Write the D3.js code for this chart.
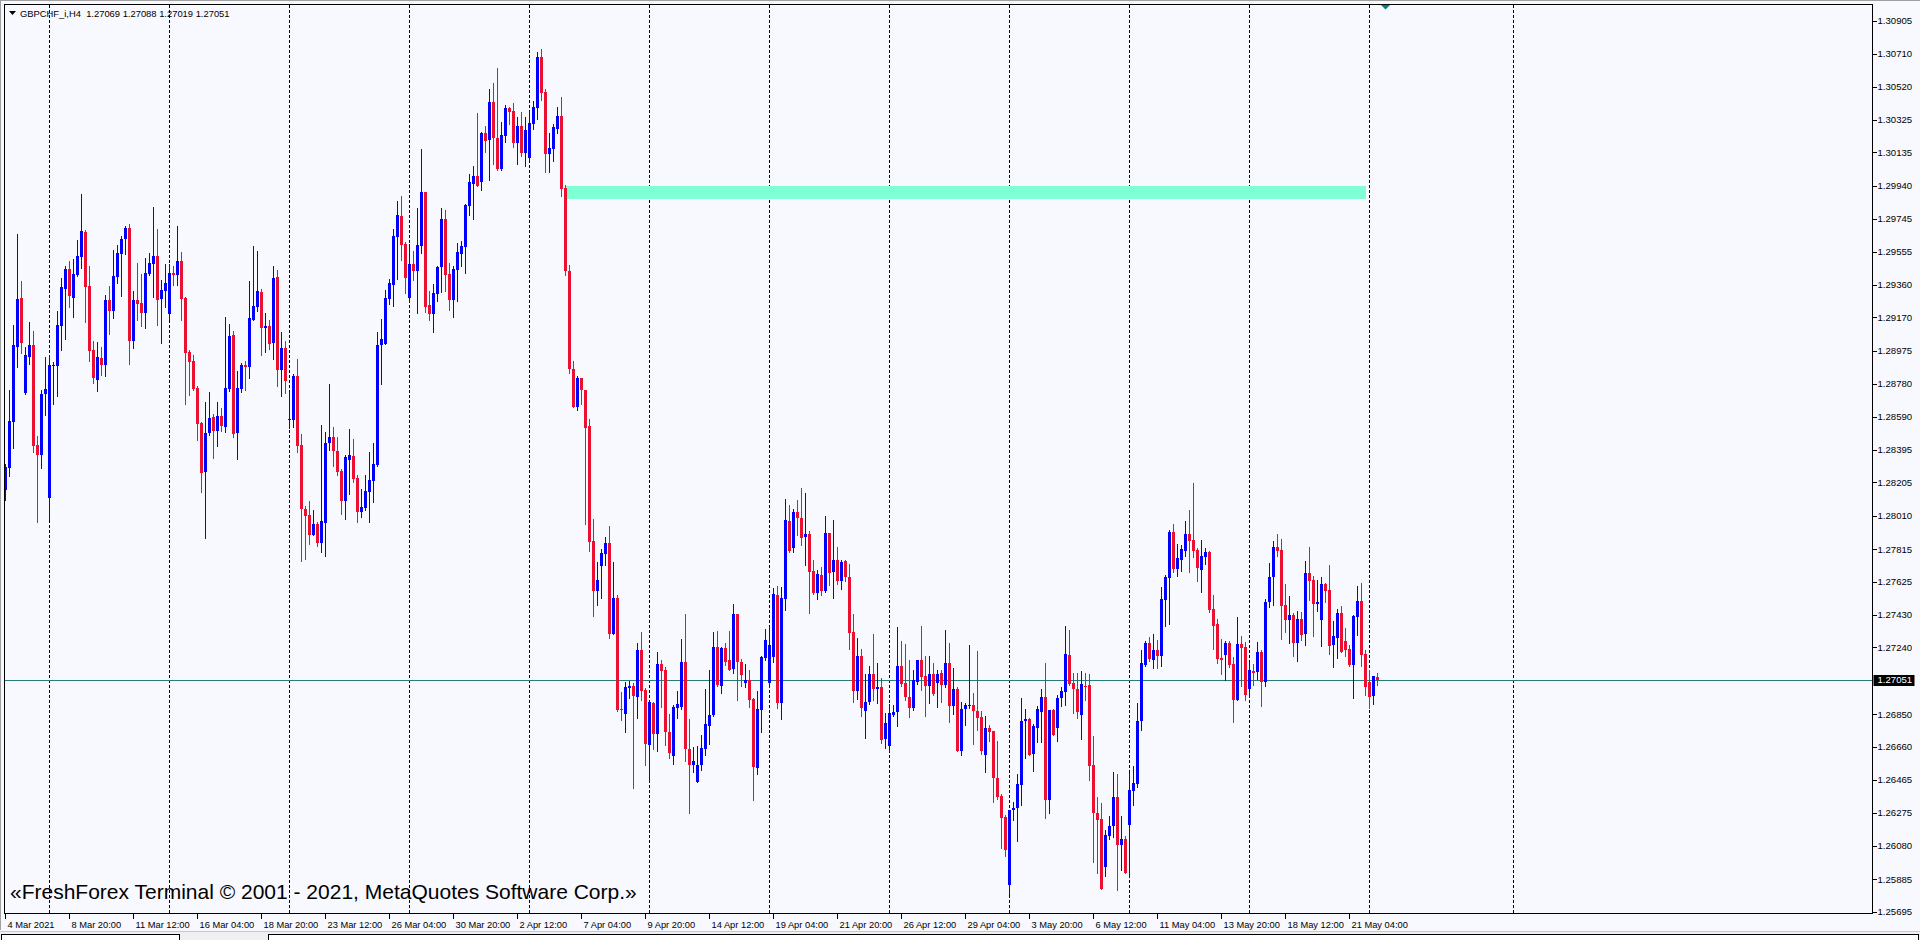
<!DOCTYPE html>
<html><head><meta charset="utf-8">
<script src="https://cdn.jsdelivr.net/npm/d3@7"></script>
<style>
html,body{margin:0;padding:0;background:#F8F8FF;overflow:hidden}
svg{display:block}
text{font-family:"Liberation Sans",Arial,sans-serif}
</style></head><body>
<svg id="chart" width="1920" height="940"></svg>
<script>
const chartTitle = "GBPCHF_i,H4  1.27069 1.27088 1.27019 1.27051";
const watermark = "«FreshForex Terminal © 2001 - 2021, MetaQuotes Software Corp.»";
const firstBarTime = "2021-03-04 04:00";

const openP = [
1.28158,1.28291,1.28558,1.28997,1.29283,1.28728,1.28938,1.29006,1.28422,1.28363,
1.28724,1.28114,1.28885,1.28885,1.29119,1.29334,1.29456,1.29283,1.29416,1.29523,
1.29667,1.29351,1.28977,1.28804,1.28932,1.28889,1.29269,1.29207,1.29406,1.29538,
1.29626,1.29692,1.29035,1.29269,1.29252,1.29195,1.29421,1.29480,1.29527,1.29275,
1.29322,1.29189,1.29427,1.29416,1.29497,1.29283,1.28965,1.28913,1.28755,1.28550,
1.28266,1.28494,1.28585,1.28505,1.28591,1.28529,1.28753,1.29065,1.28494,1.28751,
1.28890,1.28880,1.29157,1.29231,1.29318,1.29110,1.29120,1.29020,1.29406,1.28864,
1.28991,1.28570,1.28572,1.28825,1.28422,1.28052,1.28013,1.27900,1.27960,1.27853,
1.27970,1.28436,1.28471,1.28389,1.28272,1.28095,1.28334,1.28360,1.28231,1.28032,
1.28057,1.28149,1.28213,1.28305,1.29007,1.29014,1.29278,1.29357,1.29640,1.29761,
1.29597,1.29283,1.29480,1.29441,1.29587,1.29901,1.29241,1.29192,1.29305,1.29463,
1.29747,1.29422,1.29274,1.29449,1.29538,1.29583,1.29824,1.29951,1.29996,1.29960,
1.30246,1.30208,1.30429,1.30217,1.30040,1.30229,1.30394,1.30376,1.30187,1.30288,
1.30134,1.30105,1.30302,1.30397,1.30692,1.30488,1.30128,1.30152,1.30270,1.30347,
1.29928,1.29444,1.28869,1.28644,1.28813,1.28748,1.28535,1.27863,1.27571,1.27718,
1.27789,1.27851,1.27320,1.27532,1.26883,1.26850,1.27001,1.27016,1.26951,1.27228,
1.26992,1.26668,1.26916,1.26733,1.27143,1.27110,1.26745,1.26603,1.26889,1.26892,
1.27155,1.26647,1.26552,1.26453,1.26550,1.26648,1.26778,1.26846,1.27242,1.27012,
1.27236,1.27164,1.27117,1.27433,1.27158,1.27032,1.27051,1.26936,1.26535,1.26874,
1.27178,1.27035,1.27187,1.27544,1.26915,1.27521,1.27977,1.27821,1.28035,1.28000,
1.27885,1.27901,1.27690,1.27558,1.27665,1.27569,1.27907,1.27681,1.27749,1.27628,
1.27745,1.27655,1.27328,1.26985,1.27193,1.26866,1.26920,1.27082,1.26996,1.27006,
1.26702,1.26663,1.26848,1.26862,1.27129,1.27030,1.26952,1.26889,1.27041,1.27164,
1.27071,1.27014,1.27086,1.27032,1.27092,1.27018,1.27152,1.26897,1.26995,1.26634,
1.26883,1.26895,1.26905,1.26868,1.26831,1.26611,1.26772,1.26749,1.26476,1.26369,
1.26246,1.25850,1.26289,1.26301,1.26435,1.26809,1.26819,1.26616,1.26768,1.26862,
1.26948,1.26347,1.26872,1.26768,1.26942,1.26979,1.27195,1.27030,1.26998,1.26845,
1.27016,1.27018,1.26550,1.26271,1.26238,1.25956,1.26137,1.26194,1.26363,1.26084,
1.26123,1.26201,1.26398,1.26441,1.26809,1.27135,1.27268,1.27167,1.27223,1.27188,
1.27515,1.27646,1.27913,1.27697,1.27751,1.27804,1.27901,1.27866,1.27808,1.27693,
1.27769,1.27796,1.27463,1.27375,1.27176,1.27196,1.27264,1.27141,1.26933,1.27258,
1.27241,1.26997,1.27100,1.27096,1.27211,1.27038,1.27504,1.27650,1.27825,1.27808,
1.27486,1.27400,1.27430,1.27266,1.27404,1.27319,1.27673,1.27632,1.27494,1.27400,
1.27609,1.27574,1.27254,1.27295,1.27439,1.27276,1.27229,1.27137,1.27418,1.27510,
1.27200,1.27038,1.26956,1.27069];

const highP = [
1.28314,1.28743,1.29123,1.29659,1.29381,1.28997,1.29141,1.29088,1.28474,1.28743,
1.28938,1.28948,1.28909,1.29205,1.29400,1.29468,1.29497,1.29509,1.29624,1.29889,
1.29679,1.29468,1.29030,1.29024,1.28997,1.29299,1.29351,1.29562,1.29591,1.29644,
1.29704,1.29714,1.29322,1.29486,1.29421,1.29515,1.29544,1.29813,1.29685,1.29386,
1.29480,1.29480,1.29468,1.29702,1.29550,1.29289,1.28977,1.28948,1.28767,1.28558,
1.28675,1.28733,1.28607,1.28675,1.28638,1.29172,1.29133,1.29089,1.28855,1.28903,
1.28913,1.29383,1.29587,1.29558,1.29334,1.29196,1.29153,1.29469,1.29445,1.29083,
1.29030,1.28734,1.28837,1.28925,1.28486,1.28065,1.28095,1.28042,1.27974,1.28539,
1.28498,1.28779,1.28529,1.28471,1.28282,1.28364,1.28517,1.28459,1.28247,1.28165,
1.28247,1.28383,1.28436,1.29083,1.29159,1.29328,1.29393,1.29685,1.29849,1.29880,
1.29611,1.29597,1.29558,1.29810,1.30153,1.29901,1.29322,1.29363,1.29469,1.29810,
1.29800,1.29490,1.29469,1.29605,1.29618,1.29833,1.30010,1.30055,1.30364,1.30255,
1.30291,1.30503,1.30541,1.30627,1.30311,1.30414,1.30403,1.30423,1.30344,1.30370,
1.30344,1.30379,1.30438,1.30721,1.30739,1.30503,1.30246,1.30299,1.30403,1.30459,
1.29942,1.29479,1.28913,1.28830,1.28813,1.28748,1.28574,1.27990,1.27739,1.27818,
1.27886,1.27951,1.27739,1.27547,1.26981,1.27040,1.27046,1.27031,1.27267,1.27332,
1.27001,1.26927,1.26919,1.27214,1.27169,1.27125,1.26850,1.26904,1.26987,1.27287,
1.27438,1.26824,1.26657,1.26661,1.26726,1.27000,1.27111,1.27328,1.27334,1.27242,
1.27269,1.27334,1.27497,1.27433,1.27174,1.27141,1.27111,1.26944,1.26985,1.27191,
1.27347,1.27357,1.27589,1.27599,1.27591,1.28111,1.28076,1.28051,1.28100,1.28170,
1.28141,1.27920,1.27753,1.27694,1.27710,1.28006,1.27911,1.27983,1.27825,1.27753,
1.27753,1.27729,1.27433,1.27297,1.27232,1.27082,1.27133,1.27320,1.27152,1.27063,
1.26854,1.26911,1.26901,1.27359,1.27275,1.27260,1.27164,1.27111,1.27164,1.27363,
1.27188,1.27188,1.27152,1.27110,1.27110,1.27345,1.27264,1.27119,1.27008,1.26924,
1.26915,1.27252,1.26973,1.27217,1.26868,1.26837,1.26784,1.26753,1.26692,1.26381,
1.26258,1.26291,1.26338,1.26498,1.26942,1.26880,1.26827,1.26792,1.26895,1.26995,
1.27149,1.26874,1.26880,1.26961,1.27008,1.27365,1.27341,1.27092,1.27092,1.27100,
1.27092,1.27086,1.26720,1.26365,1.26330,1.26170,1.26252,1.26511,1.26498,1.26254,
1.26135,1.26507,1.26546,1.26915,1.27228,1.27277,1.27300,1.27321,1.27282,1.27591,
1.27662,1.27925,1.27960,1.27843,1.27837,1.27977,1.28042,1.28200,1.27819,1.27866,
1.27819,1.27804,1.27545,1.27404,1.27287,1.27276,1.27276,1.27182,1.27416,1.27305,
1.27270,1.27153,1.27143,1.27270,1.27223,1.27521,1.27732,1.27862,1.27901,1.27872,
1.27609,1.27539,1.27439,1.27451,1.27445,1.27743,1.27825,1.27656,1.27632,1.27650,
1.27615,1.27720,1.27393,1.27463,1.27482,1.27352,1.27252,1.27430,1.27597,1.27615,
1.27223,1.27106,1.27071,1.27088];

const lowP = [
1.28100,1.28242,1.28406,1.28880,1.28961,1.28724,1.28899,1.28383,1.27973,1.28289,
1.28597,1.27989,1.28665,1.28710,1.28977,1.29043,1.29230,1.29172,1.29410,1.29460,
1.29143,1.28918,1.28786,1.28739,1.28831,1.28827,1.29071,1.29166,1.29371,1.29295,
1.29538,1.28897,1.28991,1.29152,1.29119,1.29108,1.29416,1.29289,1.29123,1.29020,
1.29230,1.29160,1.29357,1.29357,1.29152,1.28663,1.28714,1.28743,1.28453,1.28149,
1.27882,1.28482,1.28348,1.28418,1.28505,1.28500,1.28740,1.28471,1.28340,1.28734,
1.28743,1.28816,1.29153,1.29207,1.28948,1.28968,1.28987,1.28929,1.28767,1.28710,
1.28728,1.28523,1.28529,1.28383,1.27745,1.27760,1.27847,1.27896,1.27833,1.27798,
1.27775,1.28397,1.28301,1.28250,1.28022,1.27993,1.28139,1.28208,1.27974,1.28003,
1.28042,1.27974,1.28091,1.28301,1.28783,1.29012,1.29246,1.29237,1.29393,1.29508,
1.29313,1.29260,1.29391,1.29196,1.29547,1.29202,1.29157,1.29085,1.29266,1.29318,
1.29324,1.29215,1.29172,1.29266,1.29473,1.29429,1.29768,1.29745,1.29937,1.29913,
1.30137,1.29972,1.30069,1.30031,1.30031,1.30196,1.30299,1.30167,1.30069,1.30111,
1.30055,1.30090,1.30270,1.30329,1.30444,1.30019,1.30019,1.30084,1.30246,1.29878,
1.29420,1.28845,1.28644,1.28630,1.28662,1.27960,1.27804,1.27423,1.27488,1.27532,
1.27724,1.27296,1.27320,1.26869,1.26818,1.26745,1.26945,1.26420,1.26830,1.26933,
1.26550,1.26455,1.26647,1.26633,1.26892,1.26668,1.26594,1.26559,1.26830,1.26883,
1.26574,1.26273,1.26509,1.26453,1.26521,1.26614,1.26673,1.26842,1.27012,1.26973,
1.27139,1.27110,1.27090,1.26930,1.27016,1.27008,1.26891,1.26346,1.26499,1.26745,
1.27164,1.27008,1.27154,1.26885,1.26821,1.27462,1.27797,1.27796,1.27895,1.27840,
1.27720,1.27441,1.27554,1.27523,1.27544,1.27564,1.27603,1.27529,1.27610,1.27581,
1.27626,1.27230,1.26922,1.26938,1.26837,1.26710,1.26911,1.26934,1.26915,1.26681,
1.26655,1.26632,1.26842,1.26780,1.27012,1.26930,1.26833,1.26872,1.27028,1.26993,
1.26837,1.26915,1.26965,1.26891,1.26924,1.27008,1.26804,1.26850,1.26634,1.26611,
1.26788,1.26887,1.26675,1.26755,1.26616,1.26511,1.26692,1.26336,1.26353,1.26065,
1.26018,1.25796,1.26234,1.26108,1.26316,1.26593,1.26609,1.26517,1.26685,1.26685,
1.26242,1.26271,1.26726,1.26691,1.26895,1.26903,1.27020,1.26856,1.26827,1.26704,
1.26930,1.26464,1.25985,1.25921,1.25827,1.25901,1.26123,1.26129,1.25821,1.25938,
1.25921,1.25897,1.26316,1.26424,1.26755,1.27129,1.27160,1.27120,1.27120,1.27131,
1.27365,1.27377,1.27681,1.27656,1.27687,1.27773,1.27681,1.27769,1.27628,1.27564,
1.27728,1.27447,1.27231,1.27149,1.27085,1.27050,1.27126,1.26804,1.26933,1.27015,
1.26933,1.26950,1.27022,1.27055,1.26898,1.27015,1.27476,1.27488,1.27775,1.27289,
1.27330,1.27266,1.27190,1.27161,1.27283,1.27254,1.27517,1.27307,1.27453,1.27248,
1.27506,1.27202,1.27126,1.27178,1.27213,1.27190,1.27131,1.26944,1.27313,1.27131,
1.26962,1.26886,1.26909,1.27019];

const closeP = [
1.28295,1.28564,1.29006,1.29275,1.29020,1.28948,1.29006,1.28418,1.28363,1.28724,
1.28753,1.28889,1.28889,1.29123,1.29345,1.29456,1.29295,1.29421,1.29527,1.29673,
1.29347,1.28973,1.28815,1.28936,1.28889,1.29269,1.29207,1.29410,1.29544,1.29626,
1.29692,1.29035,1.29269,1.29248,1.29195,1.29427,1.29486,1.29527,1.29269,1.29328,
1.29369,1.29427,1.29416,1.29497,1.29277,1.28961,1.28909,1.28749,1.28546,1.28260,
1.28492,1.28581,1.28505,1.28591,1.28535,1.28755,1.29059,1.28486,1.28757,1.28890,
1.28880,1.29166,1.29237,1.29322,1.29110,1.29120,1.29014,1.29400,1.28864,1.28991,
1.28798,1.28576,1.28825,1.28418,1.28052,1.28009,1.27900,1.27960,1.27853,1.27978,
1.28436,1.28471,1.28389,1.28266,1.28095,1.28354,1.28364,1.28225,1.28032,1.28061,
1.28155,1.28217,1.28311,1.29007,1.29042,1.29283,1.29371,1.29646,1.29767,1.29595,
1.29400,1.29480,1.29441,1.29591,1.29901,1.29231,1.29192,1.29313,1.29465,1.29743,
1.29420,1.29274,1.29451,1.29550,1.29588,1.29827,1.29960,1.29996,1.29937,1.30246,
1.30202,1.30429,1.30217,1.30040,1.30234,1.30394,1.30373,1.30187,1.30288,1.30134,
1.30264,1.30305,1.30400,1.30692,1.30485,1.30128,1.30158,1.30282,1.30347,1.29919,
1.29441,1.28866,1.28644,1.28816,1.28745,1.28526,1.27857,1.27571,1.27636,1.27795,
1.27851,1.27320,1.27532,1.26877,1.26877,1.27007,1.27013,1.26957,1.27228,1.26987,
1.26674,1.26919,1.26733,1.27143,1.27102,1.26745,1.26624,1.26892,1.26910,1.27155,
1.26647,1.26553,1.26574,1.26552,1.26652,1.26790,1.26848,1.27242,1.27018,1.27236,
1.27158,1.27111,1.27433,1.27154,1.27078,1.27051,1.26930,1.26540,1.26878,1.27182,
1.27281,1.27254,1.27550,1.26915,1.27532,1.27983,1.27803,1.28035,1.27996,1.27879,
1.27901,1.27681,1.27558,1.27667,1.27569,1.27907,1.27675,1.27749,1.27628,1.27737,
1.27651,1.27322,1.26985,1.27193,1.26885,1.26924,1.27082,1.26996,1.27008,1.26700,
1.26796,1.26854,1.26860,1.27129,1.27026,1.26950,1.26889,1.27049,1.27164,1.27067,
1.27014,1.27086,1.26967,1.27086,1.27020,1.27152,1.26897,1.26995,1.26634,1.26883,
1.26901,1.26905,1.26868,1.26827,1.26634,1.26768,1.26745,1.26476,1.26363,1.26242,
1.26055,1.26287,1.26301,1.26441,1.26813,1.26821,1.26611,1.26778,1.26878,1.26948,
1.26347,1.26872,1.26728,1.26942,1.26983,1.27201,1.27026,1.26995,1.26860,1.27024,
1.27012,1.26546,1.26271,1.26229,1.25827,1.26141,1.26194,1.26363,1.26084,1.26123,
1.25923,1.26404,1.26445,1.26813,1.27147,1.27269,1.27170,1.27223,1.27188,1.27521,
1.27650,1.27913,1.27697,1.27761,1.27814,1.27901,1.27862,1.27804,1.27704,1.27773,
1.27796,1.27457,1.27365,1.27172,1.27167,1.27264,1.27137,1.26933,1.27258,1.27239,
1.26962,1.27106,1.27091,1.27211,1.27038,1.27504,1.27650,1.27825,1.27804,1.27482,
1.27400,1.27430,1.27266,1.27404,1.27313,1.27673,1.27628,1.27494,1.27504,1.27609,
1.27570,1.27248,1.27305,1.27439,1.27213,1.27225,1.27137,1.27422,1.27510,1.27196,
1.27009,1.26950,1.27071,1.27051];

const priceTicks = [1.30905,1.30710,1.30520,1.30325,1.30135,1.29940,1.29745,1.29555,1.29360,
  1.29170,1.28975,1.28780,1.28590,1.28395,1.28205,1.28010,1.27815,1.27625,1.27430,1.27240,
  1.26850,1.26660,1.26465,1.26275,1.26080,1.25885,1.25695];
const lastPrice = 1.27051;
const timeTickLabels = ["4 Mar 2021","8 Mar 20:00","11 Mar 12:00","16 Mar 04:00","18 Mar 20:00",
  "23 Mar 12:00","26 Mar 04:00","30 Mar 20:00","2 Apr 12:00","7 Apr 04:00","9 Apr 20:00",
  "14 Apr 12:00","19 Apr 04:00","21 Apr 20:00","26 Apr 12:00","29 Apr 04:00","3 May 20:00",
  "6 May 12:00","11 May 04:00","13 May 20:00","18 May 12:00","21 May 04:00"];
const barsPerTimeLabel = 16;
const zoneFrom = "2021-04-06 12:00", zoneTo = "2021-05-21 20:00";
const zoneHigh = 1.29941, zoneLow = 1.29861;
const futureSeparatorBar = 377;

// ---- bar times (H4, Mon-Fri) ----
const N = openP.length;
const parse = d3.utcParse("%Y-%m-%d %H:%M");
const fmtKey = d3.utcFormat("%Y-%m-%d %H:%M");
const times = [];
{ let t = parse(firstBarTime).getTime();
  while (times.length < N) {
    const d = new Date(t);
    if (d.getUTCDay() !== 0 && d.getUTCDay() !== 6) times.push(d);
    t += 4*3600*1000;
  } }
const idxOf = s => times.findIndex(d => fmtKey(d) === s);
const bars = d3.range(N).map(i => ({i, t: times[i], o: openP[i], h: highP[i], l: lowP[i], c: closeP[i]}));

// ---- geometry ----
const W = 1920, H = 940;
const plot = {left: 4.5, top: 4.5, right: 1872.5, bottom: 913.5};
const x = d3.scaleLinear().domain([0, 1]).range([5.5, 9.5]);
const y = d3.scaleLinear().domain([1.25695, 1.30905]).range([911.7, 20.7]);

const svg = d3.select("#chart");
svg.append("rect").attr("width", W).attr("height", H).attr("fill", "#F8F8FF");

svg.append("clipPath").attr("id", "clip").append("rect")
  .attr("x", plot.left + 0.5).attr("y", plot.top + 0.5)
  .attr("width", plot.right - plot.left - 1).attr("height", plot.bottom - plot.top - 1);
const g = svg.append("g").attr("clip-path", "url(#clip)").attr("shape-rendering", "crispEdges");

// weekly separators
const sepIdx = bars.filter(b => b.t.getUTCDay() === 1 && b.t.getUTCHours() === 0).map(b => b.i);
sepIdx.push(futureSeparatorBar);
g.selectAll("line.sep").data(sepIdx).join("line").attr("class", "sep")
  .attr("x1", d => x(d)).attr("x2", d => x(d))
  .attr("y1", plot.top).attr("y2", plot.bottom)
  .attr("stroke", "#000").attr("stroke-width", 1).attr("stroke-dasharray", "3,2");

// supply zone rectangle
const zi0 = idxOf(zoneFrom), zi1 = idxOf(zoneTo);
g.append("rect").attr("x", x(zi0)).attr("width", x(zi1) - x(zi0))
  .attr("y", y(zoneHigh)).attr("height", y(zoneLow) - y(zoneHigh))
  .attr("fill", "#7FFFD4");

// bid line
g.append("line").attr("x1", plot.left).attr("x2", plot.right)
  .attr("y1", Math.round(y(lastPrice)) + 0.5).attr("y2", Math.round(y(lastPrice)) + 0.5)
  .attr("stroke", "#267F76").attr("stroke-width", 1);

// candles
const bull = "#0000FF", bear = "#EB1030";
const cg = g.selectAll("g.bar").data(bars).join("g").attr("class", "bar");
cg.append("line")
  .attr("x1", d => x(d.i)).attr("x2", d => x(d.i))
  .attr("y1", d => Math.round(y(d.h))).attr("y2", d => Math.round(y(d.l)) + 1)
  .attr("stroke", d => d.c >= d.o ? bull : bear).attr("stroke-width", 1);
cg.append("rect")
  .attr("x", d => x(d.i) - 1.5).attr("width", 3)
  .attr("y", d => Math.round(y(Math.max(d.o, d.c))))
  .attr("height", d => Math.max(1, Math.round(y(Math.min(d.o, d.c))) - Math.round(y(Math.max(d.o, d.c)))))
  .attr("fill", d => d.c >= d.o ? bull : bear);

// frame
const frame = svg.append("g").attr("shape-rendering", "crispEdges");
frame.append("line").attr("x1", 0).attr("x2", W).attr("y1", 0.5).attr("y2", 0.5).attr("stroke", "#A0A0A0");
frame.append("line").attr("x1", 0.5).attr("x2", 0.5).attr("y1", 0).attr("y2", 930).attr("stroke", "#A0A0A0");
frame.append("rect").attr("x", plot.left).attr("y", plot.top)
  .attr("width", plot.right - plot.left).attr("height", plot.bottom - plot.top)
  .attr("fill", "none").attr("stroke", "#000");

// price axis
const ya = svg.append("g");
ya.selectAll("line").data(priceTicks).join("line")
  .attr("x1", plot.right).attr("x2", plot.right + 4)
  .attr("y1", d => Math.round(y(d)) + 0.5).attr("y2", d => Math.round(y(d)) + 0.5)
  .attr("stroke", "#000").attr("shape-rendering", "crispEdges");
ya.selectAll("text").data(priceTicks).join("text")
  .attr("x", plot.right + 5).attr("y", d => y(d)).attr("dy", "0.35em")
  .attr("font-size", 9.6).attr("fill", "#000").text(d => d.toFixed(5));
ya.append("rect").attr("x", plot.right + 1).attr("y", Math.round(y(lastPrice)) - 5)
  .attr("width", 41).attr("height", 11).attr("fill", "#000");
ya.append("text").attr("x", plot.right + 5).attr("y", y(lastPrice)).attr("dy", "0.35em")
  .attr("font-size", 9.6).attr("fill", "#fff").text(lastPrice.toFixed(5));

// time axis
const tIdx = timeTickLabels.map((s, k) => k * barsPerTimeLabel);
const xa = svg.append("g");
xa.selectAll("line").data(tIdx).join("line")
  .attr("x1", d => x(d)).attr("x2", d => x(d)).attr("y1", plot.bottom).attr("y2", plot.bottom + 5)
  .attr("stroke", "#000").attr("shape-rendering", "crispEdges");
xa.selectAll("text").data(timeTickLabels).join("text")
  .attr("x", (d, k) => x(tIdx[k]) + 2).attr("y", 927.5)
  .attr("font-size", 9.3).attr("fill", "#000").text(d => d);

// bottom tab strip
const tabs = svg.append("g").attr("shape-rendering", "crispEdges");
tabs.append("rect").attr("x", 0).attr("y", 931).attr("width", W).attr("height", 9).attr("fill", "#F0F0F0");
tabs.append("line").attr("x1", 0).attr("x2", W).attr("y1", 931.5).attr("y2", 931.5).attr("stroke", "#C8C8C8");
tabs.append("rect").attr("x", 1.5).attr("y", 934.5).attr("width", 178).attr("height", 8).attr("fill", "#FFFFFF").attr("stroke", "#000");
tabs.append("rect").attr("x", 268.5).attr("y", 934.5).attr("width", 1650).attr("height", 8).attr("fill", "#FFFFFF").attr("stroke", "#000");

// title
svg.append("path").attr("d", "M9,11 L16,11 L12.5,15 Z").attr("fill", "#000");
svg.append("text").attr("x", 20).attr("y", 16.5).attr("font-size", 9.4).attr("fill", "#000")
  .attr("xml:space", "preserve").style("white-space", "pre").text(chartTitle);

// shift marker
svg.append("path").attr("d", "M1381,5 L1390,5 L1385.5,9.5 Z").attr("fill", "#008080");

// watermark
svg.append("text").attr("x", 10).attr("y", 899).attr("font-size", 21).attr("fill", "#000").text(watermark);
</script>
</body></html>
